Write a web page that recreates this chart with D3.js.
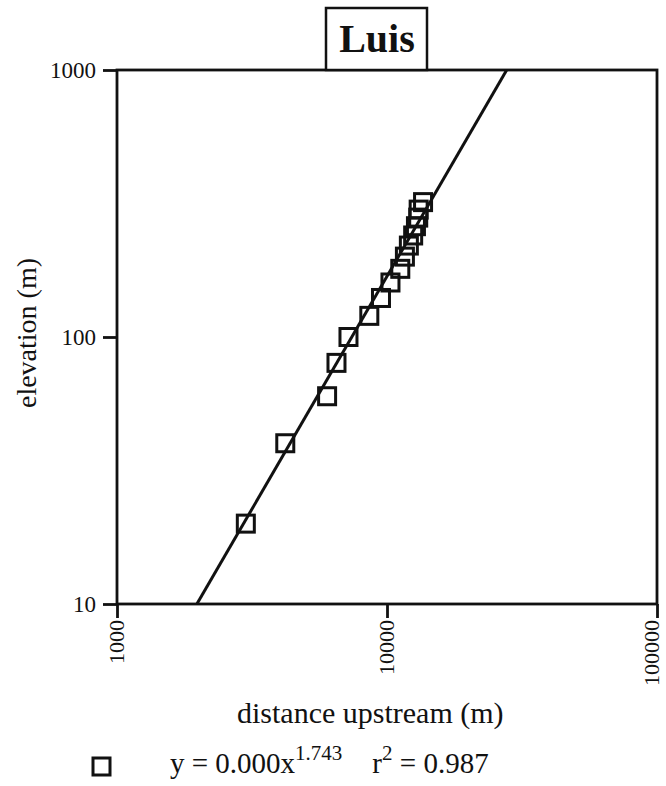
<!DOCTYPE html>
<html>
<head>
<meta charset="utf-8">
<script src="https://cdn.jsdelivr.net/npm/d3@7"></script>
<style>
  html, body { margin: 0; padding: 0; background: #fff; }
  svg { display: block; font-family: "Liberation Serif", "Times New Roman", serif; }
</style>
</head>
<body>
<svg id="chart" width="666" height="786"></svg>
<script>
// ---- data ----
const title = "Luis";
const elevation = [20, 40, 60, 80, 100, 120, 140, 160, 180, 200, 220, 240, 260, 280, 300, 320];
const distance  = [3000, 4200, 6000, 6500, 7200, 8600, 9500, 10300, 11200, 11650, 12050, 12500, 12800, 13050, 13100, 13600];
const xTicks = [1000, 10000, 100000];
const yTicks = [10, 100, 1000];
const fitCoef = 1.8e-5;
const fitExp = 1.743;
const r2 = 0.987;
const xLabel = "distance upstream (m)";
const yLabel = "elevation (m)";

// ---- layout ----
const svg = d3.select("#chart");
const L = 117, R = 657, T = 70, B = 604;
const ink = "#111";

const x = d3.scaleLog().domain([1000, 100000]).range([L, R]);
const y = d3.scaleLog().domain([10, 1000]).range([B, T]);

svg.append("clipPath").attr("id", "clip")
  .append("rect").attr("x", L).attr("y", T).attr("width", R - L).attr("height", B - T);

const plot = svg.append("g");

// fit line y = a x^b, drawn between y = 10 and y = 1000
const fx0 = Math.pow(10 / fitCoef, 1 / fitExp);
const fx1 = Math.pow(1000 / fitCoef, 1 / fitExp);
const fitPts = [fx0, fx1].map(v => [v, fitCoef * Math.pow(v, fitExp)]);
plot.append("path")
  .datum(fitPts)
  .attr("clip-path", "url(#clip)")
  .attr("fill", "none")
  .attr("stroke", ink)
  .attr("stroke-width", 3)
  .attr("d", d3.line().x(d => x(d[0])).y(d => y(d[1])));

// frame
svg.append("rect")
  .attr("x", L).attr("y", T).attr("width", R - L).attr("height", B - T)
  .attr("fill", "none").attr("stroke", ink).attr("stroke-width", 2.8);

// points
const sq = 17;
plot.selectAll("rect.pt")
  .data(distance.map((d, i) => [d, elevation[i]]))
  .join("rect")
  .attr("class", "pt")
  .attr("x", d => x(d[0]) - sq / 2)
  .attr("y", d => y(d[1]) - sq / 2)
  .attr("width", sq).attr("height", sq)
  .attr("fill", "none")
  .attr("stroke", ink).attr("stroke-width", 3);

// axes
const yAxis = svg.append("g").attr("transform", `translate(${L},0)`)
  .call(d3.axisLeft(y).tickValues(yTicks).tickFormat(d3.format("d")).tickSize(14).tickPadding(7));
const xAxis = svg.append("g").attr("transform", `translate(0,${B})`)
  .call(d3.axisBottom(x).tickValues(xTicks).tickFormat(d3.format("d")).tickSize(14));

[yAxis, xAxis].forEach(g => {
  g.select(".domain").remove();
  g.selectAll(".tick line").attr("stroke", ink).attr("stroke-width", 2.8);
  g.selectAll(".tick text").attr("fill", ink)
    .style("font-family", "'Liberation Serif', 'Times New Roman', serif")
    .style("font-size", "23px");
});
xAxis.selectAll(".tick text")
  .style("font-size", "22px")
  .attr("transform", "rotate(-90)")
  .attr("text-anchor", "end")
  .attr("x", -16).attr("y", 0)
  .attr("dy", (d, i, n) => i === n.length - 1 ? "0.08em" : "0.3em");

// axis titles
svg.append("text")
  .attr("transform", `translate(36,${(T + B) / 2 - 4}) rotate(-90)`)
  .attr("text-anchor", "middle")
  .style("font-size", "28px").attr("fill", ink)
  .text(yLabel);

svg.append("text")
  .attr("x", 237).attr("y", 723)
  .attr("text-anchor", "start")
  .style("font-size", "30px").attr("fill", ink)
  .text(xLabel);

// title box
const tb = svg.append("g");
tb.append("rect").attr("x", 326).attr("y", 8).attr("width", 101).attr("height", T - 8)
  .attr("fill", "#fff").attr("stroke", ink).attr("stroke-width", 2.5);
tb.append("text").attr("x", 377).attr("y", 52).attr("text-anchor", "middle")
  .style("font-size", "40px").style("font-weight", "bold").attr("fill", ink)
  .text(title);

// legend
svg.append("rect").attr("x", 93).attr("y", 758).attr("width", 17).attr("height", 17)
  .attr("fill", "none").attr("stroke", ink).attr("stroke-width", 3);
const eq = svg.append("text").attr("x", 170).attr("y", 773)
  .style("font-size", "29px").attr("fill", ink);
eq.append("tspan").text("y = " + d3.format(".3f")(fitCoef) + "x");
eq.append("tspan").attr("dy", -13).style("font-size", "21px").text(String(fitExp));
eq.append("tspan").attr("dy", 13).attr("dx", 30).text("r");
eq.append("tspan").attr("dy", -13).style("font-size", "21px").text("2");
eq.append("tspan").attr("dy", 13).text(" = " + r2);
</script>
</body>
</html>
